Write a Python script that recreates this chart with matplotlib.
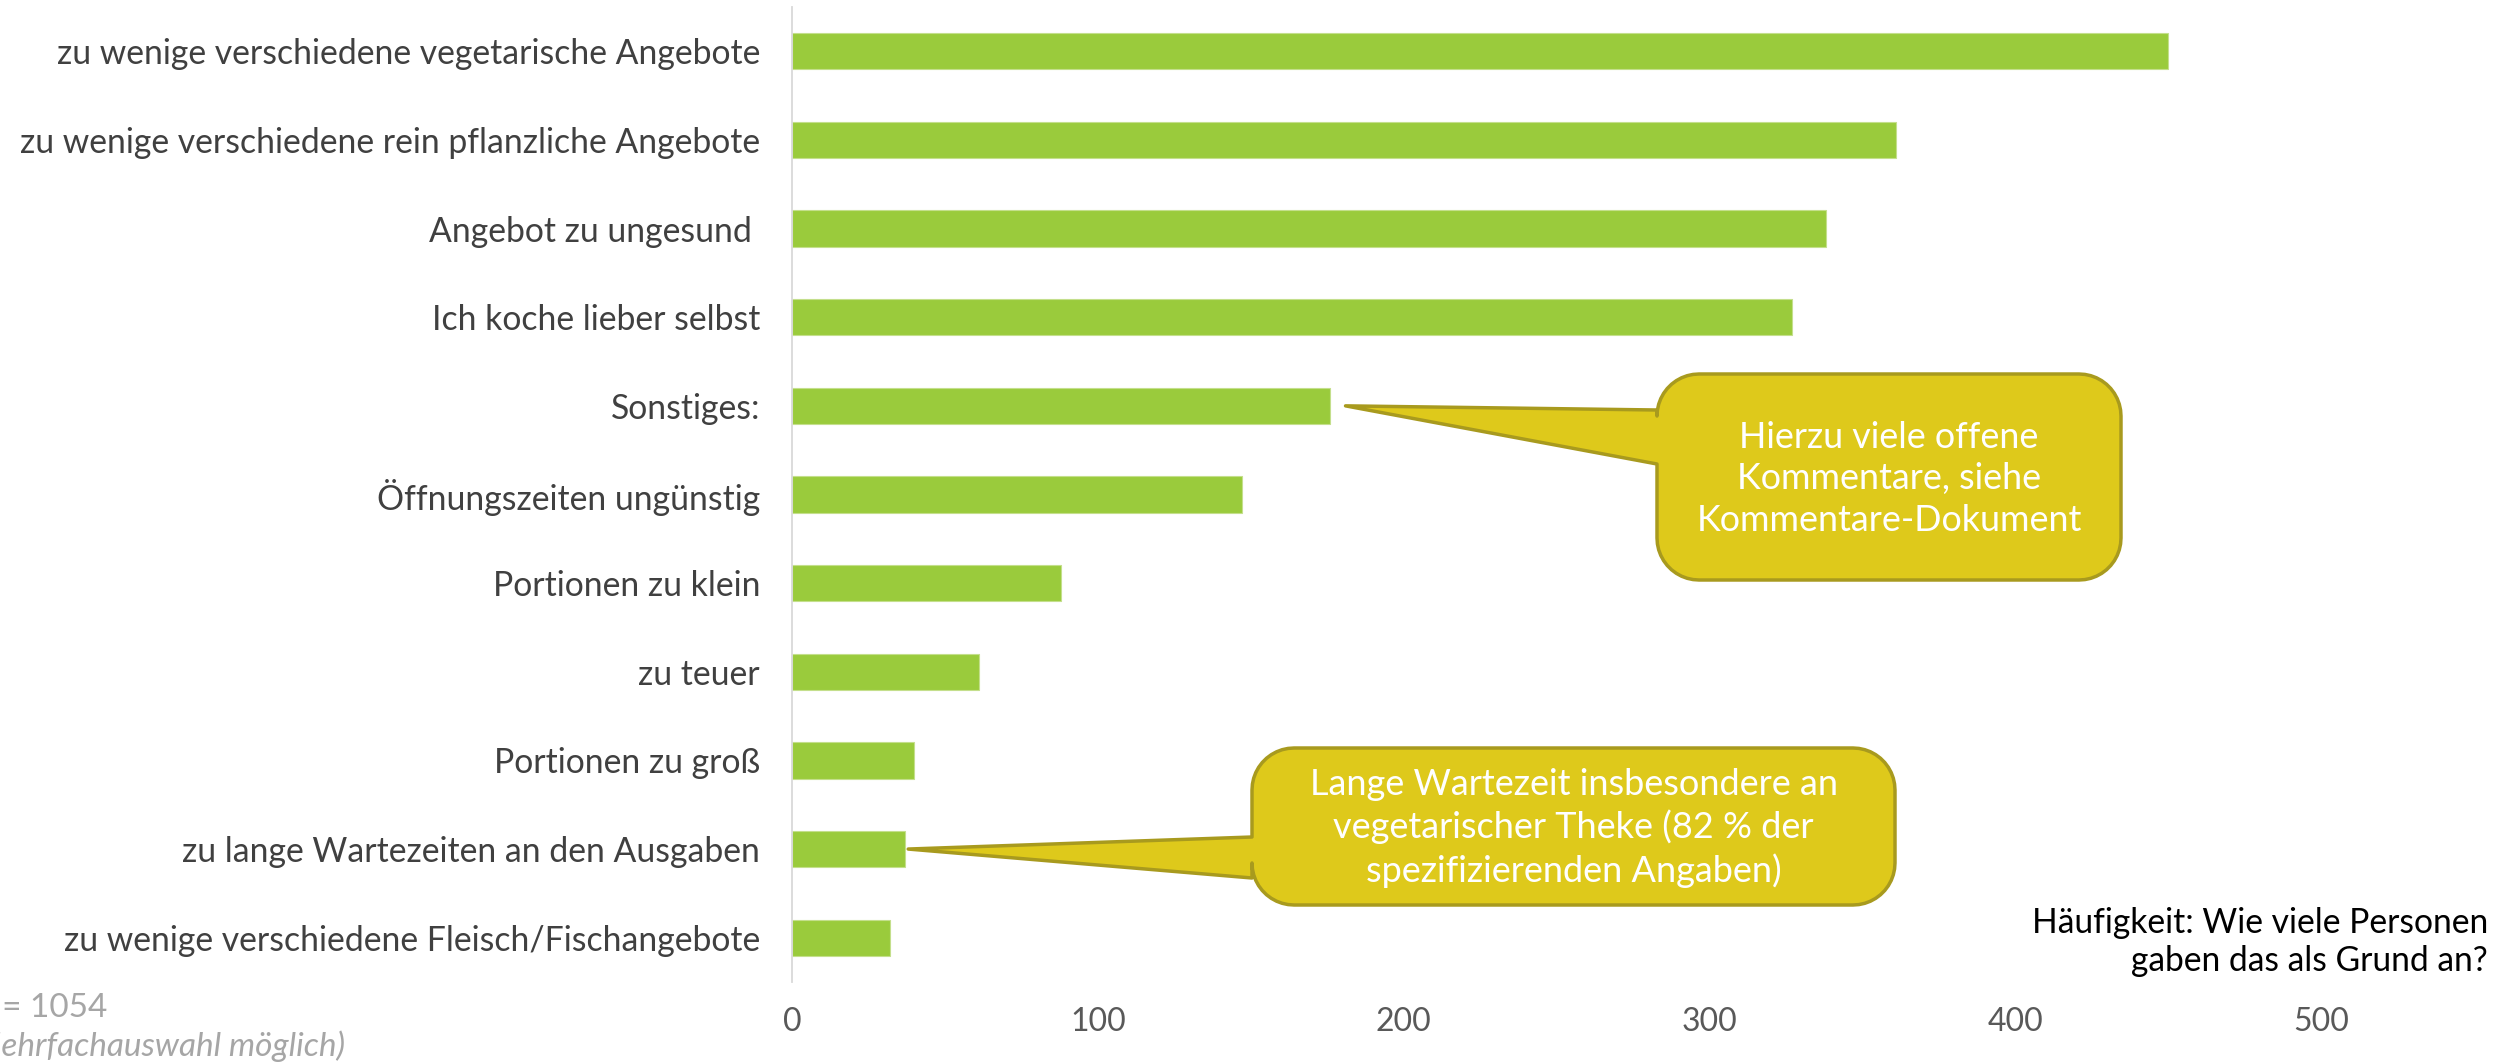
import matplotlib
matplotlib.use("Agg")
import matplotlib.pyplot as plt
import numpy as np
from matplotlib.patches import Polygon

plt.rcParams['font.family'] = ['Lato', 'DejaVu Sans']

# survey answers, top to bottom
reasons = [
    "zu wenige verschiedene vegetarische Angebote",
    "zu wenige verschiedene rein pflanzliche Angebote",
    "Angebot zu ungesund ",
    "Ich koche lieber selbst",
    "Sonstiges:",
    "Öffnungszeiten ungünstig",
    "Portionen zu klein",
    "zu teuer",
    "Portionen zu groß",
    "zu lange Wartezeiten an den Ausgaben",
    "zu wenige verschiedene Fleisch/Fischangebote",
]
counts = [450, 361, 338, 327, 176, 147, 88, 61, 40, 37, 32]
x_ticks = [0, 100, 200, 300, 400, 500]

note_other = "Hierzu viele offene\nKommentare, siehe\nKommentare-Dokument"
note_wait = "Lange Wartezeit insbesondere an\nvegetarischer Theke (82 % der\nspezifizierenden Angaben)"
sample_text = "n = 1054"
multi_text = "(Mehrfachauswahl möglich)"
axis_note = ["Häufigkeit: Wie viele Personen", "gaben das als Grund an?"]

W, H = 2496, 1063
BAR_GREEN = '#9ACB3C'
BOX_FILL = '#DEC91B'
BOX_EDGE = '#A89A1E'


def callout(x0, y0, x1, y1, r, tip, base_top, base_bot):
    # rounded box (pixel coords, y down) with a pointer leaving the left edge
    pts = []

    def arc(cx, cy, a0, a1):
        for a in np.linspace(a0, a1, 12):
            pts.append((cx + r * np.cos(a), cy + r * np.sin(a)))

    arc(x0 + r, y0 + r, np.pi, 1.5 * np.pi)
    arc(x1 - r, y0 + r, 1.5 * np.pi, 2 * np.pi)
    arc(x1 - r, y1 - r, 0, 0.5 * np.pi)
    arc(x0 + r, y1 - r, 0.5 * np.pi, np.pi)
    pts.append((x0, base_bot))
    pts.append(tip)
    pts.append((x0, base_top))
    return pts


fig = plt.figure(figsize=(W / 100, H / 100), dpi=100)
ax = fig.add_axes([792 / W, 1 - 982 / H, 1682 / W, 975 / H])

y = np.arange(len(reasons))
ax.barh(y, counts, height=0.41, color=BAR_GREEN, edgecolor='#C4DF8C', linewidth=0.8)
ax.set_ylim(len(reasons) - 0.5, -0.5)
ax.set_xlim(0, 550)
ax.set_yticks(y)
ax.set_yticklabels(reasons)
ax.set_xticks(x_ticks)
ax.tick_params(axis='y', length=0, pad=23, labelsize=24.3, labelcolor='#404040')
ax.tick_params(axis='x', length=0, pad=18, labelsize=23, labelcolor='#595959')
for side in ['top', 'right', 'bottom']:
    ax.spines[side].set_visible(False)
ax.spines['left'].set_color('#D9D9D9')
ax.spines['left'].set_linewidth(1.3)

# overlay in pixel coordinates for callouts and notes
ov = fig.add_axes([0, 0, 1, 1], zorder=5)
ov.set_xlim(0, W)
ov.set_ylim(H, 0)
ov.axis('off')
ov.patch.set_alpha(0)


def to_px(x, yv):
    disp = ax.transData.transform((x, yv))
    return tuple(ov.transData.inverted().transform(disp))


tip1 = to_px(counts[4] + 5, 4)
box1 = callout(1657, 374, 2121, 580, 42, tip1, 410, 464)
ov.add_patch(Polygon(box1, closed=True, facecolor=BOX_FILL, edgecolor=BOX_EDGE,
                     linewidth=2.5, joinstyle='round'))
ov.text((1657 + 2121) / 2, 479, note_other, ha='center', va='center', color='white',
        fontsize=25.8, linespacing=1.3)

tip2 = to_px(counts[9] + 1, 9)
box2 = callout(1252, 748, 1895, 905, 42, tip2, 837, 878)
ov.add_patch(Polygon(box2, closed=True, facecolor=BOX_FILL, edgecolor=BOX_EDGE,
                     linewidth=2.5, joinstyle='round'))
ov.text((1252 + 1895) / 2, 828, note_wait, ha='center', va='center', color='white',
        fontsize=26, linespacing=1.3)

ov.text(107, 1008, sample_text, ha='right', va='center', color='#A6A6A6', fontsize=24)
ov.text(345, 1046, multi_text, ha='right', va='center', color='#A6A6A6', fontsize=24,
        style='italic')
ov.text(2488, 923, axis_note[0], ha='right', va='center', color='black', fontsize=24.2)
ov.text(2488, 961, axis_note[1], ha='right', va='center', color='black', fontsize=24.2)

fig.savefig('out.png', dpi=100)
